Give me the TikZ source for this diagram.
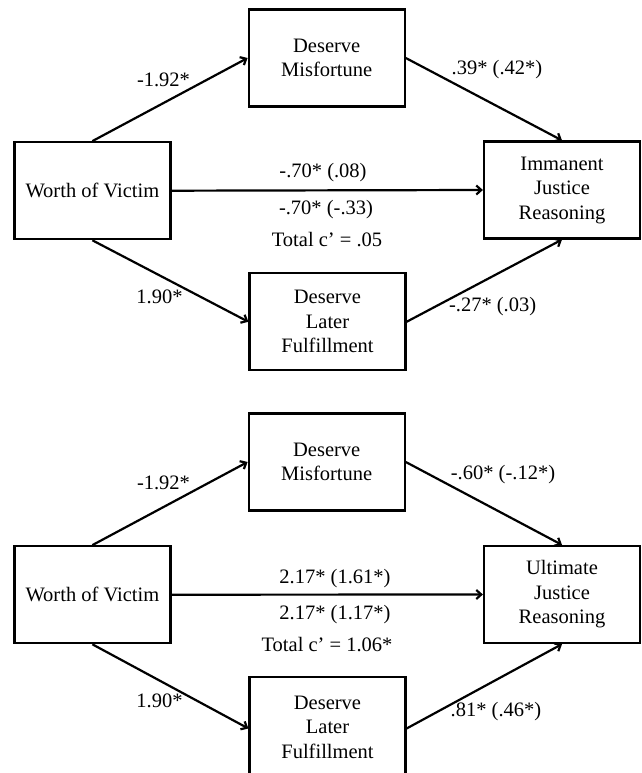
\documentclass[tikz,border=0pt]{standalone}
\usepackage{fontspec}
\setmainfont{Liberation Serif}
\usetikzlibrary{arrows.meta}
\begin{document}
\begin{tikzpicture}[x=1pt,y=-1pt,
  box/.style={draw, line width=2.2pt, minimum width=156pt, minimum height=97pt, align=center, inner sep=0pt, font=\fontsize{20.5}{24.5}\selectfont},
  conn/.style={line width=2.2pt, -{Straight Barb[length=5pt,width=9pt,line width=2.2pt]}},
  lab/.style={font=\fontsize{20.5}{24}\selectfont, inner sep=0pt}]
\useasboundingbox (0,0) rectangle (641,773);
\fill[white] (0,0) rectangle (641,773);
% top diagram
\node[box] (dm1) at (326.7,58) {Deserve\\Misfortune};
\node[box] (wv1) at (92.4,190.7) {Worth of Victim};
\node[box] (ij1) at (562,190) {Immanent\\Justice\\Reasoning};
\node[box] (dl1) at (327.5,321.8) {Deserve\\Later\\Fulfillment};
\draw[conn] (wv1.north) -- (dm1.west);
\draw[conn] (dm1.east) -- (ij1.north);
\draw[conn] (wv1.east) -- (ij1.west);
\draw[conn] (wv1.south) -- (dl1.west);
\draw[conn] (dl1.east) -- (ij1.south);
\node[lab] (l1) at (163.5,80) {-1.92*};
\node[lab] (l2) at (497,70) {.39* (.42*)};
\node[lab] (l3) at (323,173) {-.70* (.08)};
\node[lab] (l4) at (326,210) {-.70* (-.33)};
\node[lab] (l5) at (327,240) {Total c’ = .05};
\node[lab] (l6) at (159.5,296.7) {1.90*};
\node[lab] (l7) at (492.6,306.7) {-.27* (.03)};
% bottom diagram
\node[box] (dm2) at (326.7,462) {Deserve\\Misfortune};
\node[box] (wv2) at (92.4,594.7) {Worth of Victim};
\node[box] (ij2) at (562,594.5) {Ultimate\\Justice\\Reasoning};
\node[box, minimum height=100pt] (dl2) at (327.5,727) {Deserve\\Later\\Fulfillment};
\draw[conn] (wv2.north) -- (dm2.west);
\draw[conn] (dm2.east) -- (ij2.north);
\draw[conn] (wv2.east) -- (ij2.west);
\draw[conn] (wv2.south) -- ([yshift=-1.5pt]dl2.west);
\draw[conn] ([yshift=-1.5pt]dl2.east) -- (ij2.south);
\node[lab] (m1) at (163.5,483.3) {-1.92*};
\node[lab] (m2) at (503,474.3) {-.60* (-.12*)};
\node[lab] (m3) at (335,578.3) {2.17* (1.61*)};
\node[lab] (m4) at (335,615) {2.17* (1.17*)};
\node[lab] (m5) at (327,645) {Total c’ = 1.06*};
\node[lab] (m6) at (159.5,700.7) {1.90*};
\node[lab] (m7) at (496,711.7) {.81* (.46*)};
\end{tikzpicture}
\end{document}
